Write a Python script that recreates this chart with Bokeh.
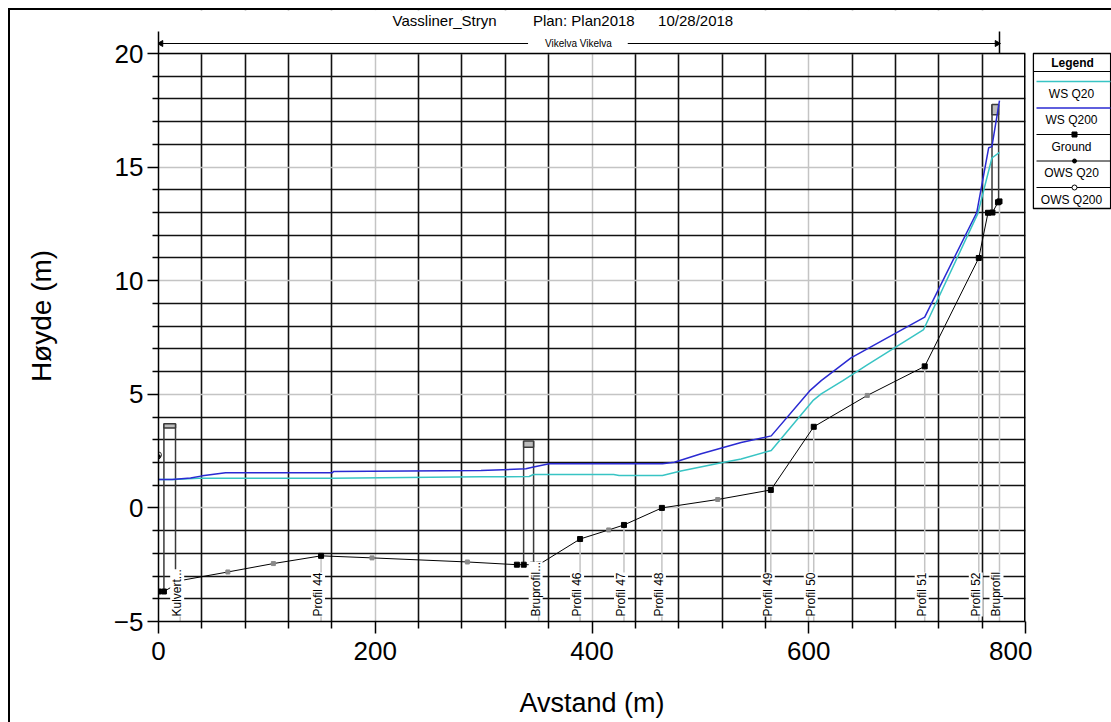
import numpy as np
from bokeh.plotting import figure
from bokeh.models import Range1d, FixedTicker, ColumnDataSource, LabelSet
from bokeh.layouts import row
from bokeh.embed import file_html
from bokeh.resources import INLINE
from bokeh.core.properties import value

FONT = "Liberation Sans"

# ---------------- data ----------------
title_parts = ["Vassliner_Stryn", "Plan: Plan2018", "10/28/2018"]
reach_label = "Vikelva Vikelva"
x_axis_label = "Avstand (m)"
y_axis_label = "Høyde (m)"

x_ticks = [0, 200, 400, 600, 800]
y_ticks = [-5, 0, 5, 10, 15, 20]
x_minor_step = 40
y_minor_step = 1

ground_x = [0, 5, 15.7, 20, 64, 106, 150, 197, 285, 330.7, 337, 345.3, 350.8, 389,
            415.4, 429.5, 464.5, 516, 565, 604.6, 654, 707, 756.9, 765.4, 769.5,
            774.6, 776]
ground_y = [-3.68, -3.68, -3.38, -3.2, -2.82, -2.45, -2.11, -2.2, -2.38, -2.5, -2.5,
            -2.5, -2.5, -1.37, -0.97, -0.75, 0.0, 0.37, 0.79, 3.57, 4.95, 6.23, 11.0,
            12.99, 13.0, 13.45, 13.49]
ground_interp = [0, 0, 0, 0, 1, 1, 0, 1, 1, 0, 0, 0, 0, 0, 1, 0, 0, 1, 0, 0, 1, 0, 0,
                 0, 0, 0, 0]

ws_q200_x = [0, 12.6, 29.6, 40.4, 61.9, 160.5, 161.5, 297.5, 339, 346, 360.6, 465,
             476, 500.7, 537.6, 565.4, 600.8, 611.5, 639, 707, 755, 766, 769, 776]
ws_q200_y = [1.25, 1.25, 1.32, 1.41, 1.545, 1.545, 1.60, 1.65, 1.72, 1.80, 1.94, 1.94,
             2.01, 2.38, 2.88, 3.17, 5.15, 5.6, 6.6, 8.4, 13.0, 15.85, 15.9, 17.93]

ws_q20_x = [0, 13.9, 37, 160, 297, 342, 346, 420, 425, 465, 482, 516, 537.6, 565.4,
            603.8, 611.5, 631.5, 654, 706, 756, 769, 776]
ws_q20_y = [1.25, 1.25, 1.31, 1.31, 1.37, 1.38, 1.47, 1.47, 1.43, 1.43, 1.62, 1.95,
            2.15, 2.53, 4.72, 5.02, 5.6, 6.3, 7.85, 12.95, 15.4, 15.65]

ows_x = [0]
ows_q20_y = [2.25]
ows_q200_y = [2.33]

profile_names = ["Kulvert...", "Profil 44", "Bruprofil...", "Profil 46", "Profil 47",
                 "Profil 48", "Profil 49", "Profil 50", "Profil 51", "Profil 52",
                 "Bruprofil"]
profile_x = [20, 150, 350.8, 389, 429.5, 464.5, 565, 604.6, 707, 756.9, 776]

struct_left = [5, 336.9, 769.1]
struct_right = [15.7, 346.1, 775.2]
deck_top = [3.70, 2.94, 17.76]
deck_bottom = [3.52, 2.67, 17.30]

legend_names = ["WS Q20", "WS Q200", "Ground", "OWS Q20", "OWS Q200"]

TEAL = "#38c4c4"
BLUE = "#2a2ad2"

# ---------------- main figure ----------------
x0, x1 = x_ticks[0], x_ticks[-1]
y0, y1 = y_ticks[0], y_ticks[-1]
PX = 22.72          # pixels per y unit
TOP_PAD = 43        # pixels of header area above the y=20 line
B_BOTTOM = 101
y_top = y1 + TOP_PAD / PX
XPX = 866 / (x1 - x0)

p = figure(width=1022, height=712, x_range=Range1d(x0, x1),
           y_range=Range1d(y0, y_top),
           output_backend="svg", toolbar_location=None,
           min_border_left=148, min_border_right=7, min_border_top=0,
           min_border_bottom=B_BOTTOM)
p.background_fill_color = "white"
p.border_fill_color = "white"
p.outline_line_color = None

x_minor = [v for v in np.arange(x0, x1 + 1, x_minor_step) if v not in x_ticks]
y_minor = [v for v in np.arange(y0, y1 + 1, y_minor_step) if v not in y_ticks]
xt = FixedTicker(ticks=x_ticks, minor_ticks=x_minor)
yt = FixedTicker(ticks=y_ticks, minor_ticks=y_minor)
p.xaxis.ticker = xt
p.yaxis.ticker = yt
p.xgrid.ticker = xt
p.ygrid.ticker = yt

for g in (p.xgrid, p.ygrid):
    g.grid_line_color = "#c4c4c4"
    g.grid_line_width = 1.5
    g.minor_grid_line_color = "#111111"
    g.minor_grid_line_width = 1.6

for ax in (p.xaxis, p.yaxis):
    ax.axis_line_color = "black"
    ax.axis_line_width = 1.5
    ax.major_tick_line_color = "black"
    ax.major_tick_line_width = 1.5
    ax.minor_tick_line_color = "black"
    ax.minor_tick_line_width = 1.5
    ax.major_tick_in = 0
    ax.minor_tick_in = 0
    ax.major_label_text_font = FONT
    ax.major_label_text_font_size = "26px"
    ax.major_label_text_color = "black"
    ax.axis_label_text_font = FONT
    ax.axis_label_text_font_style = "normal"
    ax.axis_label_text_color = "black"

p.xaxis.axis_label_text_font_size = "27px"
p.yaxis.axis_label_text_font_size = "28px"
p.xaxis.major_tick_out = 12
p.xaxis.minor_tick_out = 7
p.yaxis.major_tick_out = 11
p.yaxis.minor_tick_out = 6
p.xaxis.major_label_standoff = 8
p.yaxis.major_label_standoff = 4
p.xaxis.axis_label = x_axis_label
p.yaxis.axis_label = y_axis_label
p.xaxis.axis_label_standoff = 25
p.yaxis.axis_label_standoff = 54
p.yaxis.bounds = (y0, y1 + 22 / PX)

# hide grid above the plotting area (header strip)
p.quad(left=[x0], right=[x1], bottom=[y1], top=[y_top], fill_color="white",
       line_color=None)
# frame edges at top and right
p.segment(x0=[x0], x1=[x1], y0=[y1], y1=[y1], line_color="black", line_width=1.5)
p.segment(x0=[x1], x1=[x1], y0=[y0], y1=[y1], line_color="black", line_width=3)

# profile (cross-section) vertical lines from bottom to ground
prof_ground = np.interp(profile_x, ground_x, ground_y)
p.segment(x0=profile_x, y0=[y0] * len(profile_x), x1=profile_x, y1=prof_ground,
          line_color="#c4c4c4", line_width=1.5)

# structures (culvert + bridges)
sl_g = np.interp(struct_left, ground_x, ground_y)
sr_g = np.interp(struct_right, ground_x, ground_y)
p.segment(x0=struct_left, y0=sl_g, x1=struct_left, y1=deck_top,
          line_color="#3a3a3a", line_width=1.5)
p.segment(x0=struct_right, y0=sr_g, x1=struct_right, y1=deck_top,
          line_color="#3a3a3a", line_width=1.5)
p.quad(left=struct_left, right=struct_right, bottom=deck_bottom, top=deck_top,
       fill_color="#bdbdbd", line_color="#3a3a3a", line_width=1.5)

# water surfaces
p.line(ws_q20_x, ws_q20_y, line_color=TEAL, line_width=1.5)
p.line(ws_q200_x, ws_q200_y, line_color=BLUE, line_width=1.5)

# ground
p.line(ground_x, ground_y, line_color="black", line_width=1)
gsrc = ColumnDataSource(dict(
    x=ground_x, y=ground_y,
    c=["#8a8a8a" if k else "black" for k in ground_interp],
    s=[4 if k else 5 for k in ground_interp]))
p.scatter("x", "y", source=gsrc, marker="square", size="s", fill_color="c",
          line_color="c")

# observed WS
p.scatter(ows_x, ows_q20_y, marker="circle", size=4, fill_color="black",
          line_color="black")
p.scatter(ows_x, ows_q200_y, marker="circle", size=6, fill_color=None,
          line_color="#333333", line_width=1)

# profile labels
lab_src = ColumnDataSource(dict(x=profile_x, y=[y0 + 0.22] * len(profile_x),
                                t=profile_names))
p.add_layout(LabelSet(x="x", y="y", text="t", source=lab_src, angle=np.pi / 2,
                      text_align="left", text_baseline="middle", x_offset=-3,
                      text_font=value(FONT), text_font_size="12px",
                      text_color="black", background_fill_color="white"))

# title (header strip)
ty = y1 + 33 / PX
p.text(x=[216, 345.5, 461], y=[ty] * 3, text=title_parts, text_font=value(FONT),
       text_font_size="15px", text_baseline="middle", text_align="left",
       text_color="black")

# reach arrow with river / reach name
reach_end = ground_x[-1]
ay = y1 + 10 / PX
p.segment(x0=[x0, 433], x1=[341, reach_end], y0=[ay, ay], y1=[ay, ay],
          line_color="black", line_width=1)
p.scatter(x=[x0 + 2.5 / XPX, reach_end - 2.5 / XPX], y=[ay, ay], marker="triangle",
          angle=[np.pi / 2, -np.pi / 2], size=6, color="black")
p.segment(x0=[reach_end], x1=[reach_end], y0=[y1], y1=[y1 + 22 / PX],
          line_color="black", line_width=1.5)
p.text(x=[387.5], y=[ay], text=[reach_label], text_font=value(FONT),
       text_font_size="10px", text_align="center", text_baseline="middle",
       text_color="black")

# ---------------- legend figure ----------------
FH = 712 - B_BOTTOM
lg = figure(width=79, height=712, x_range=Range1d(0, 79), y_range=Range1d(FH, 0),
            x_axis_location=None, y_axis_location=None, output_backend="svg",
            toolbar_location=None, min_border_left=0, min_border_right=0,
            min_border_top=0, min_border_bottom=B_BOTTOM)
lg.xgrid.visible = False
lg.ygrid.visible = False
lg.outline_line_color = None
lg.background_fill_color = "white"
lg.border_fill_color = "white"
T = TOP_PAD
lg.quad(left=[0.8], right=[78.2], top=[T], bottom=[T + 155], fill_color="white",
        line_color="black", line_width=1.5)
lg.text(x=[40], y=[T + 9], text=["Legend"], text_align="center",
        text_baseline="middle", text_font=value(FONT), text_font_style="bold",
        text_font_size="12px", text_color="black")
lg.segment(x0=[0.8], x1=[78.2], y0=[T + 18], y1=[T + 18], line_color="black",
           line_width=1)

sample_y = [T + 28 + 26.5 * i for i in range(len(legend_names))]
label_y = [v + 12 for v in sample_y]
lg.segment(x0=[4] * 5, x1=[78] * 5, y0=sample_y, y1=sample_y,
           line_color=[TEAL, BLUE, "black", "black", "black"],
           line_width=[1.5, 1.5, 1, 1, 1])
lg.scatter([42], [sample_y[2]], marker="square", size=5, color="black")
lg.scatter([42], [sample_y[3]], marker="circle", size=4, color="black")
lg.scatter([42], [sample_y[4]], marker="circle", size=5, fill_color="white",
           line_color="black")
lg.text(x=[39] * 5, y=label_y, text=legend_names, text_align="center",
        text_baseline="middle", text_font=value(FONT), text_font_size="12px",
        text_color="black")

layout = row(p, lg, styles={"border-left": "2px solid black",
                            "border-top": "2px solid black",
                            "margin-left": "8px", "margin-top": "8px"})

with open("out.html", "w") as f:
    f.write(file_html(layout, INLINE))
